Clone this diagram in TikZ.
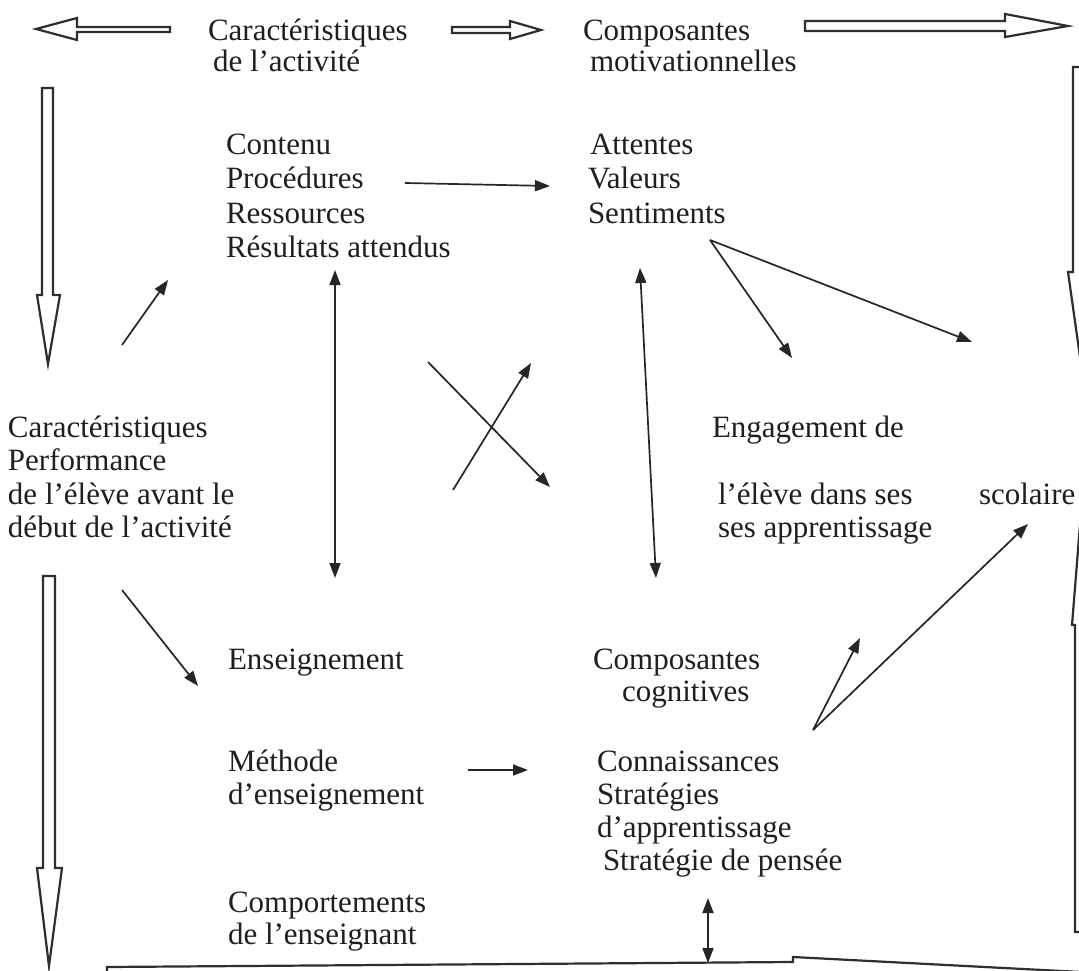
\documentclass[tikz,border=0pt]{standalone}
\usepackage{fontspec}
\setmainfont{Liberation Serif}
\usetikzlibrary{arrows.meta}
\begin{document}
\begin{tikzpicture}[x=1pt,y=-1pt,
  lbl/.style={anchor=base west,inner sep=0pt,outer sep=0pt,text=black!88,
    font=\fontsize{31}{34}\selectfont},
  blockarrow/.style={draw=black!82,line width=2.2pt,fill=white,line join=miter},
  edgeline/.style={draw=black!82,line width=2.2pt,line join=miter},
  thinarrow/.style={draw=black!85,line width=1.7pt,
    -{Triangle[length=15pt,width=11pt]}},
  twoway/.style={draw=black!85,line width=1.7pt,
    {Triangle[length=15pt,width=11pt]}-{Triangle[length=15pt,width=11pt]}}]

\fill[white] (0,0) rectangle (1079,971);
\clip (0,0) rectangle (1079,971);

% ---- wide block arrows along the border ----
\draw[blockarrow] (170,27) -- (77,27) -- (77,18) -- (36,29) -- (77,40) -- (77,32) -- (170,32) -- cycle;
\draw[blockarrow] (452,27) -- (510,27) -- (510,21) -- (541,30) -- (510,39) -- (510,33) -- (452,33) -- cycle;
\draw[blockarrow] (805,21) -- (1005,21) -- (1005,14) -- (1068,26) -- (1005,37) -- (1005,31) -- (805,31) -- cycle;
\draw[blockarrow] (42,88) -- (53,88) -- (53,295) -- (60,295) -- (48,364) -- (37,295) -- (42,295) -- cycle;
\draw[blockarrow] (43,576) -- (55,576) -- (55,868) -- (62,868) -- (49,966) -- (37,868) -- (43,868) -- cycle;
% right border arrows, running off the edge
\draw[edgeline] (1085,67) -- (1073,67) -- (1073,272) -- (1068,272) -- (1081,364);
\draw[edgeline] (1082,500) -- (1072,625) -- (1075,625) -- (1075,932) -- (1085,932);
% bottom border arrow
\draw[edgeline] (107,980) -- (107,967) -- (793,962) -- (793,957) -- (1100,973);

% ---- labels ----
\node[lbl] (caract)  at (208,41)  {Caractéristiques};
\node[lbl] (activ)   at (213,72)  {de l’activité};
\node[lbl] (compo)   at (583,41)  {Composantes};
\node[lbl] (motiv)   at (590,72)  {motivationnelles};

\node[lbl] (contenu) at (226,155) {Contenu};
\node[lbl] (proc)    at (226,189) {Procédures};
\node[lbl] (ress)    at (226,223) {Ressources};
\node[lbl] (result)  at (226,257) {Résultats attendus};

\node[lbl] (attentes) at (590,155) {Attentes};
\node[lbl] (valeurs)  at (588,189) {Valeurs};
\node[lbl] (sentim)   at (588,223) {Sentiments};

\node[lbl] (eleveA) at (8,437) {Caractéristiques};
\node[lbl] (eleveB) at (8,470) {Performance};
\node[lbl] (eleveC) at (8,504) {de l’élève avant le};
\node[lbl] (eleveD) at (8,537) {début de l’activité};

\node[lbl] (engA) at (712,437) {Engagement de};
\node[lbl] (engB) at (718,504) {l’élève dans ses};
\node[lbl] (engC) at (718,537) {ses apprentissage};
\node[lbl] (scol) at (979,504) {scolaire};

\node[lbl] (enseign) at (228,669) {Enseignement};
\node[lbl] (cogA)    at (593,669) {Composantes};
\node[lbl] (cogB)    at (622,701) {cognitives};

\node[lbl] (methA) at (228,771) {Méthode};
\node[lbl] (methB) at (228,804) {d’enseignement};
\node[lbl] (connA) at (597,771) {Connaissances};
\node[lbl] (connB) at (597,804) {Stratégies};
\node[lbl] (connC) at (597,837) {d’apprentissage};
\node[lbl] (connD) at (603,870) {Stratégie de pensée};

\node[lbl] (compA) at (228,912) {Comportements};
\node[lbl] (compB) at (228,944) {de l’enseignant};

% ---- connector end points ----
\coordinate (a1) at (122,345);  \coordinate (a2) at (168,280);
\coordinate (b1) at (335,270);  \coordinate (b2) at (335,578);
\coordinate (c1) at (428,362);  \coordinate (c2) at (550,487);
\coordinate (d1) at (453,490);  \coordinate (d2) at (531,363);
\coordinate (e1) at (640,268);  \coordinate (e2) at (656,578);
\coordinate (f0) at (710,240);
\coordinate (f1) at (792,358);  \coordinate (f2) at (972,342);
\coordinate (h0) at (813,730);
\coordinate (h1) at (860,638);  \coordinate (h2) at (1028,524);
\coordinate (j1) at (122,590);  \coordinate (j2) at (198,686);
\coordinate (k1) at (405,183);  \coordinate (k2) at (550,186);
\coordinate (l1) at (468,770);  \coordinate (l2) at (528,770);
\coordinate (m1) at (708,898);  \coordinate (m2) at (708,963);

% ---- connectors ----
\draw[thinarrow] (a1) -- (a2);
\draw[twoway]    (b1) -- (b2);
\draw[thinarrow] (c1) -- (c2);
\draw[thinarrow] (d1) -- (d2);
\draw[twoway]    (e1) -- (e2);
\draw[thinarrow] (f0) -- (f1);
\draw[thinarrow] (f0) -- (f2);
\draw[thinarrow] (h0) -- (h1);
\draw[thinarrow] (h0) -- (h2);
\draw[thinarrow] (j1) -- (j2);
\draw[thinarrow] (k1) -- (k2);
\draw[thinarrow] (l1) -- (l2);
\draw[twoway]    (m1) -- (m2);
\end{tikzpicture}
\end{document}
